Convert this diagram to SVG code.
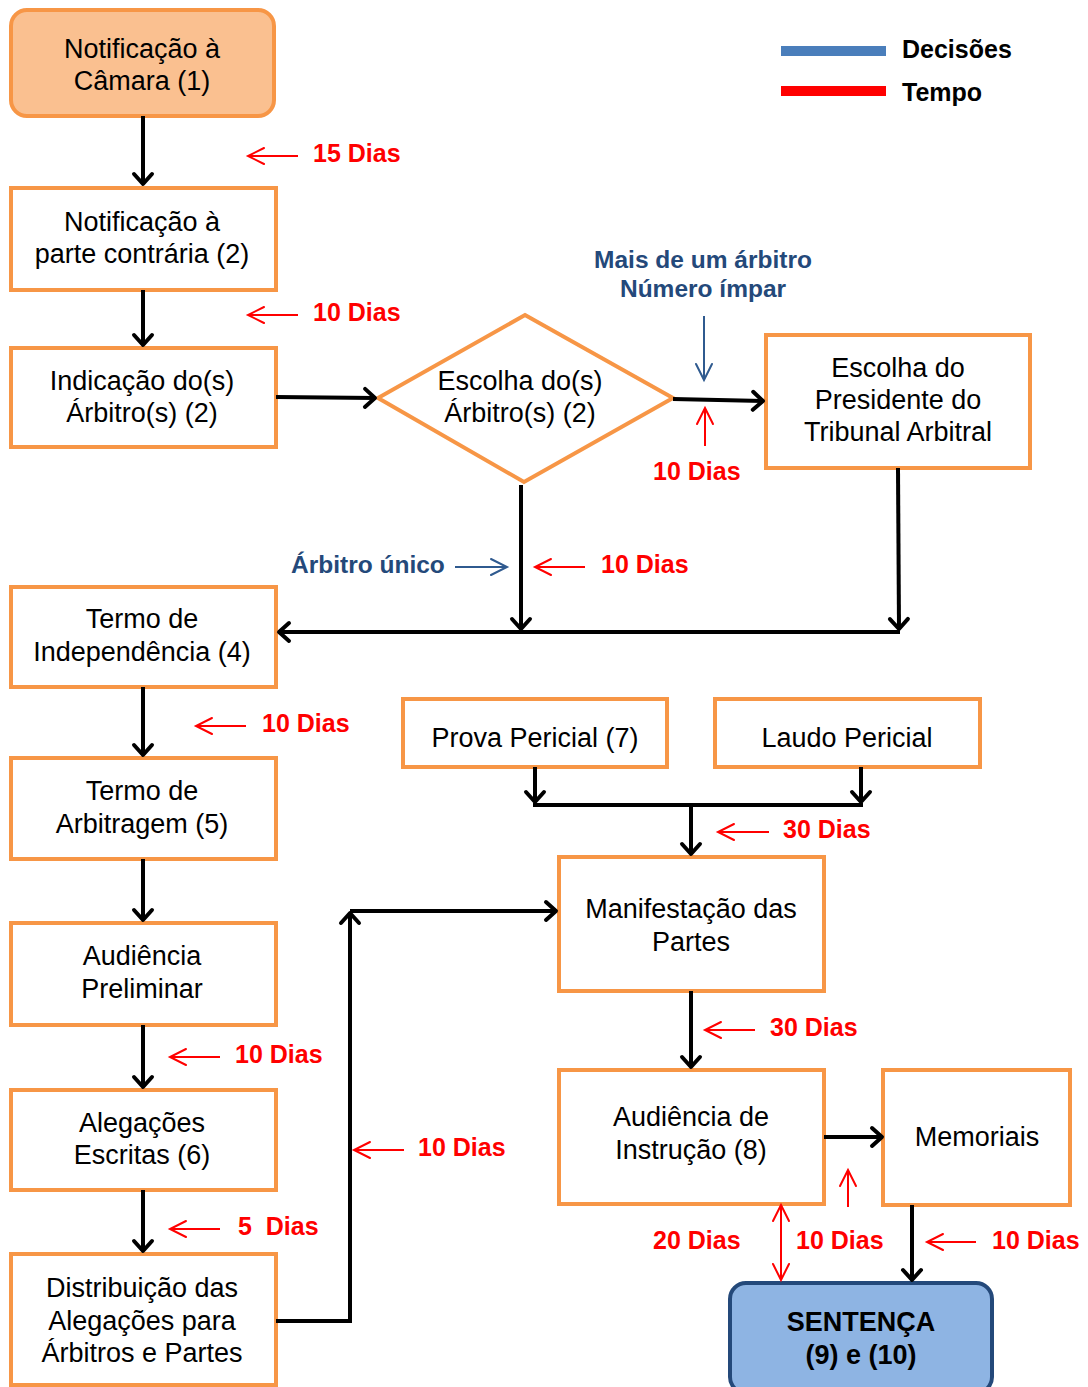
<svg xmlns="http://www.w3.org/2000/svg" width="1088" height="1387" viewBox="0 0 1088 1387">
<defs>
<marker id="ab" markerUnits="userSpaceOnUse" markerWidth="24" markerHeight="24" refX="12" refY="12" orient="auto" overflow="visible">
<path d="M2,3 L12,12 L2,21" fill="none" stroke="#000" stroke-width="4" stroke-linecap="round" stroke-linejoin="round"/>
</marker>
<marker id="ar" markerUnits="userSpaceOnUse" markerWidth="24" markerHeight="24" refX="12" refY="12" orient="auto-start-reverse" overflow="visible">
<path d="M-4,4 L12,12 L-4,20" fill="none" stroke="#FF0000" stroke-width="2" stroke-linecap="round"/>
</marker>
<marker id="abl" markerUnits="userSpaceOnUse" markerWidth="24" markerHeight="24" refX="12" refY="12" orient="auto" overflow="visible">
<path d="M-4,4 L12,12 L-4,20" fill="none" stroke="#2F5A8F" stroke-width="2" stroke-linecap="round"/>
</marker>
</defs>
<style>
.box{fill:#fff;stroke:#F79646;stroke-width:4}
.t{font-family:"Liberation Sans",Arial,sans-serif;font-size:27px;fill:#000;text-anchor:middle}
.r{font-family:"Liberation Sans",Arial,sans-serif;font-size:25px;font-weight:bold;fill:#FF0000}
.b{font-family:"Liberation Sans",Arial,sans-serif;font-size:24.5px;font-weight:bold;fill:#24497A}
.k{font-family:"Liberation Sans",Arial,sans-serif;font-size:25px;font-weight:bold;fill:#000}
.c{fill:none;stroke:#000;stroke-width:4}
.rl{fill:none;stroke:#FF0000;stroke-width:2}
.bl{fill:none;stroke:#2F5A8F;stroke-width:2}
</style>

<g id="legend">
<line x1="781" y1="51" x2="886" y2="51" stroke="#4A7EBB" stroke-width="10"/>
<line x1="781" y1="91" x2="886" y2="91" stroke="#FF0000" stroke-width="10"/>
<text class="k" x="902" y="58">Decisões</text>
<text class="k" x="902" y="101">Tempo</text>
</g>

<g id="n1"><rect x="11" y="10" width="263" height="106" rx="16" fill="#FAC090" stroke="#F79646" stroke-width="4"/>
<text class="t" x="142" y="58">Notificação à</text><text class="t" x="142" y="90">Câmara (1)</text></g>
<g id="n2"><rect class="box" x="11" y="188" width="265" height="102"/>
<text class="t" x="142" y="231">Notificação à</text><text class="t" x="142" y="263">parte contrária (2)</text></g>
<g id="n3"><rect class="box" x="11" y="348" width="265" height="99"/>
<text class="t" x="142" y="390">Indicação do(s)</text><text class="t" x="142" y="422">Árbitro(s) (2)</text></g>
<g id="n4"><polygon class="box" points="525,315 673,398 524,482 378,398"/>
<text class="t" x="520" y="390">Escolha do(s)</text><text class="t" x="520" y="422">Árbitro(s) (2)</text></g>
<g id="n5"><rect class="box" x="766" y="335" width="264" height="133"/>
<text class="t" x="898" y="377">Escolha do</text><text class="t" x="898" y="409">Presidente do</text><text class="t" x="898" y="441">Tribunal Arbitral</text></g>
<g id="n6"><rect class="box" x="11" y="587" width="265" height="100"/>
<text class="t" x="142" y="628">Termo de</text><text class="t" x="142" y="661">Independência (4)</text></g>
<g id="n7"><rect class="box" x="11" y="758" width="265" height="101"/>
<text class="t" x="142" y="800">Termo de</text><text class="t" x="142" y="833">Arbitragem (5)</text></g>
<g id="n8"><rect class="box" x="11" y="923" width="265" height="102"/>
<text class="t" x="142" y="965">Audiência</text><text class="t" x="142" y="998">Preliminar</text></g>
<g id="n9"><rect class="box" x="11" y="1090" width="265" height="100"/>
<text class="t" x="142" y="1132">Alegações</text><text class="t" x="142" y="1164">Escritas (6)</text></g>
<g id="n10"><rect class="box" x="11" y="1254" width="265" height="131"/>
<text class="t" x="142" y="1297">Distribuição das</text><text class="t" x="142" y="1330">Alegações para</text><text class="t" x="142" y="1362">Árbitros e Partes</text></g>
<g id="n11"><rect class="box" x="403" y="699" width="264" height="68"/>
<text class="t" x="535" y="747">Prova Pericial (7)</text></g>
<g id="n12"><rect class="box" x="715" y="699" width="265" height="68"/>
<text class="t" x="847" y="747">Laudo Pericial</text></g>
<g id="n13"><rect class="box" x="559" y="857" width="265" height="134"/>
<text class="t" x="691" y="918">Manifestação das</text><text class="t" x="691" y="951">Partes</text></g>
<g id="n14"><rect class="box" x="559" y="1070" width="265" height="134"/>
<text class="t" x="691" y="1126">Audiência de</text><text class="t" x="691" y="1159">Instrução (8)</text></g>
<g id="n15"><rect class="box" x="883" y="1070" width="187" height="135"/>
<text class="t" x="977" y="1146">Memoriais</text></g>
<g id="n16"><rect x="730" y="1283" width="262" height="110" rx="16" fill="#8EB4E3" stroke="#24497A" stroke-width="4"/>
<text class="t" x="861" y="1331" font-weight="bold">SENTENÇA</text><text class="t" x="861" y="1364" font-weight="bold">(9) e (10)</text></g>

<g id="connectors">
<line class="c" x1="143" y1="116" x2="143" y2="184" marker-end="url(#ab)"/>
<line class="c" x1="143" y1="290" x2="143" y2="345" marker-end="url(#ab)"/>
<line class="c" x1="276" y1="397" x2="375" y2="398" marker-end="url(#ab)"/>
<line class="c" x1="673" y1="399" x2="763" y2="401" marker-end="url(#ab)"/>
<line class="c" x1="521" y1="485" x2="521" y2="629" marker-end="url(#ab)"/>
<line class="c" x1="898" y1="468" x2="899" y2="629" marker-end="url(#ab)"/>
<line class="c" x1="900" y1="632" x2="279" y2="632" marker-end="url(#ab)"/>
<line class="c" x1="143" y1="687" x2="143" y2="755" marker-end="url(#ab)"/>
<line class="c" x1="143" y1="859" x2="143" y2="920" marker-end="url(#ab)"/>
<line class="c" x1="143" y1="1025" x2="143" y2="1087" marker-end="url(#ab)"/>
<line class="c" x1="143" y1="1190" x2="143" y2="1251" marker-end="url(#ab)"/>
<polyline class="c" points="276,1321 350,1321 350,913" marker-end="url(#ab)"/>
<line class="c" x1="350" y1="911" x2="556" y2="911" marker-end="url(#ab)"/>
<line class="c" x1="535" y1="767" x2="535" y2="802" marker-end="url(#ab)"/>
<line class="c" x1="861" y1="767" x2="861" y2="802" marker-end="url(#ab)"/>
<line class="c" x1="533" y1="805" x2="863" y2="805"/>
<line class="c" x1="691" y1="805" x2="691" y2="854" marker-end="url(#ab)"/>
<line class="c" x1="691" y1="991" x2="691" y2="1067" marker-end="url(#ab)"/>
<line class="c" x1="824" y1="1137" x2="882" y2="1137" marker-end="url(#ab)"/>
<line class="c" x1="912" y1="1205" x2="912" y2="1280" marker-end="url(#ab)"/>

<line class="rl" x1="298" y1="156" x2="248" y2="156" marker-end="url(#ar)"/>
<line class="rl" x1="298" y1="315" x2="248" y2="315" marker-end="url(#ar)"/>
<line class="rl" x1="705" y1="446" x2="705" y2="408" marker-end="url(#ar)"/>
<line class="rl" x1="585" y1="567" x2="535" y2="567" marker-end="url(#ar)"/>
<line class="rl" x1="246" y1="726" x2="196" y2="726" marker-end="url(#ar)"/>
<line class="rl" x1="769" y1="832" x2="718" y2="832" marker-end="url(#ar)"/>
<line class="rl" x1="755" y1="1030" x2="705" y2="1030" marker-end="url(#ar)"/>
<line class="rl" x1="220" y1="1057" x2="170" y2="1057" marker-end="url(#ar)"/>
<line class="rl" x1="404" y1="1150" x2="354" y2="1150" marker-end="url(#ar)"/>
<line class="rl" x1="220" y1="1229" x2="170" y2="1229" marker-end="url(#ar)"/>
<line class="rl" x1="848" y1="1207" x2="848" y2="1170" marker-end="url(#ar)"/>
<line class="rl" x1="781" y1="1205" x2="781" y2="1280" marker-start="url(#ar)" marker-end="url(#ar)"/>
<line class="rl" x1="976" y1="1242" x2="927" y2="1242" marker-end="url(#ar)"/>

<line class="bl" x1="704" y1="316" x2="704" y2="380" marker-end="url(#abl)"/>
<line class="bl" x1="455" y1="567" x2="507" y2="567" marker-end="url(#abl)"/>
</g>

<g id="labels">
<text class="r" x="313" y="162">15 Dias</text>
<text class="r" x="313" y="321">10 Dias</text>
<text class="r" x="653" y="480">10 Dias</text>
<text class="r" x="601" y="573">10 Dias</text>
<text class="r" x="262" y="732">10 Dias</text>
<text class="r" x="783" y="838">30 Dias</text>
<text class="r" x="770" y="1036">30 Dias</text>
<text class="r" x="235" y="1063">10 Dias</text>
<text class="r" x="418" y="1156">10 Dias</text>
<text class="r" x="238" y="1235" xml:space="preserve">5  Dias</text>
<text class="r" x="653" y="1249">20 Dias</text>
<text class="r" x="796" y="1249">10 Dias</text>
<text class="r" x="992" y="1249">10 Dias</text>
<text class="b" x="703" y="268" text-anchor="middle">Mais de um árbitro</text>
<text class="b" x="703" y="297" text-anchor="middle">Número ímpar</text>
<text class="b" x="291" y="573">Árbitro único</text>
</g>
</svg>
